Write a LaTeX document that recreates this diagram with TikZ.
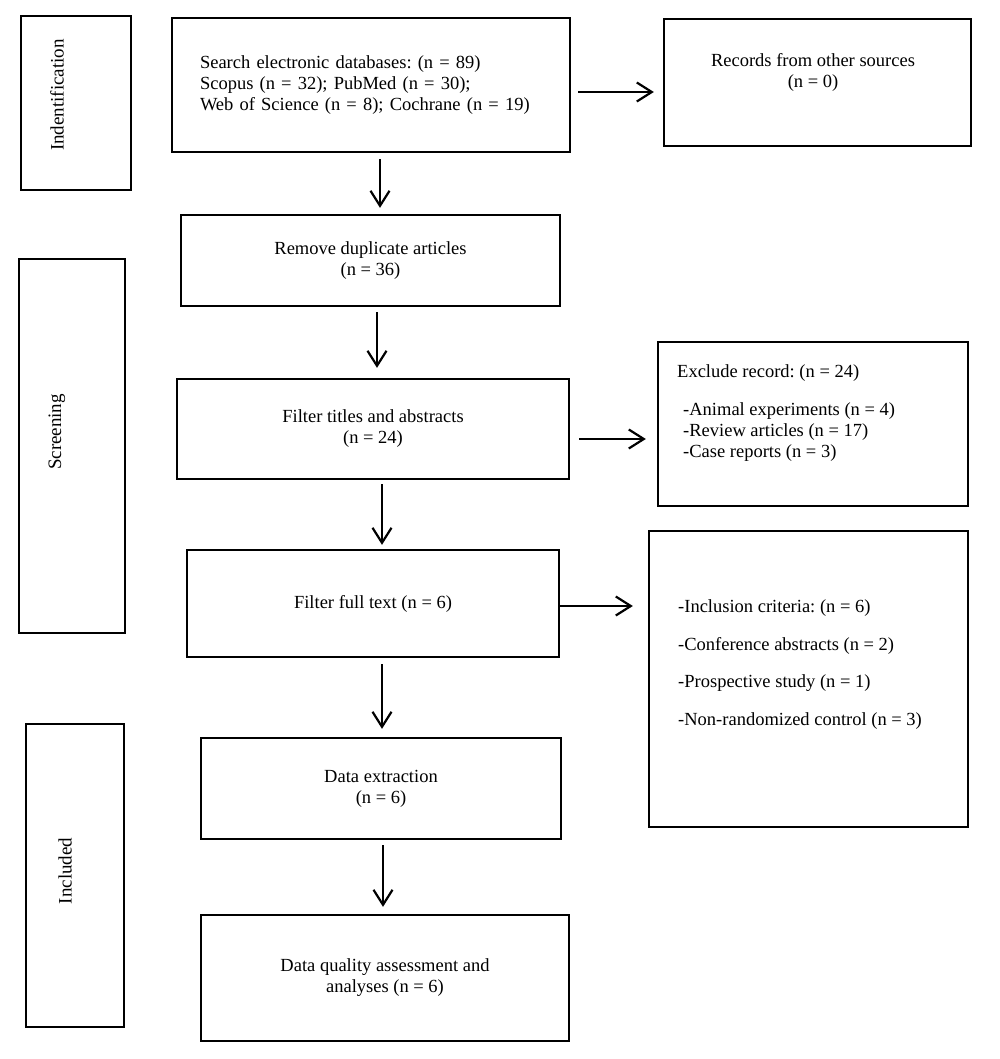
\documentclass[tikz,border=0pt]{standalone}
\usepackage{fontspec}
\setmainfont{Liberation Serif}
\usetikzlibrary{arrows.meta,calc}
\frenchspacing
\begin{document}
\begin{tikzpicture}[x=1pt,y=-1pt,
  box/.style 2 args={draw=black,line width=2.3pt,inner sep=0pt,minimum width=#1,minimum height=#2,align=center,font=\fontsize{18.5}{21}\selectfont\frenchspacing},
  txt/.style={inner sep=0pt,align=left,font=\fontsize{18.5}{21}\selectfont\frenchspacing},
  side/.style={inner sep=0pt,rotate=90,font=\fontsize{19}{22}\selectfont},
  arr/.style={line width=2.2pt,-{Straight Barb[length=15pt,width=19pt]}}]
\useasboundingbox (0,0) rectangle (1000,1059);
% side boxes
\node[box={110pt}{174pt}] (ident) at (76,103) {};
\node[side] (identt) at (57,95) {Indentification};
\node[box={106pt}{374pt}] (screen) at (72,446) {};
\node[side] (screent) at (57,432) {Screening};
\node[box={98pt}{303pt}] (incl) at (75,875.5) {};
\node[side] (inclt) at (65,871) {Included};
% main boxes
\node[box={398pt}{134pt},text width=342pt,inner xsep=28pt,align=left] (search) at (371,85)
  {Search electronic databases: (n = 89)\\Scopus (n = 32); PubMed (n = 30);\\Web of Science (n = 8); Cochrane (n = 19)};
\node[box={307pt}{127pt}] (records) at (817.5,82.5) {};
\node[txt,align=center] (recordst) at (813,72) {Records from other sources\\(n = 0)};
\node[box={379pt}{91pt}] (remove) at (370.5,260.5) {Remove duplicate articles\\(n = 36)};
\node[box={392pt}{100pt}] (titles) at (373,429) {Filter titles and abstracts\\(n = 24)};
\node[box={310pt}{164pt}] (exclude) at (813,424) {};
\node[txt,anchor=north west] (excludet) at (677,364.5)
  {Exclude record: (n = 24)\\[17pt]\hspace*{6pt}-Animal experiments (n = 4)\\\hspace*{6pt}-Review articles (n = 17)\\\hspace*{6pt}-Case reports (n = 3)};
\node[box={372pt}{107pt}] (full) at (373,603.5) {Filter full text (n = 6)};
\node[box={319pt}{296pt}] (inclusion) at (808.5,679) {};
\node[txt,anchor=north west] (inclusiont) at (678,599.5)
  {-Inclusion criteria: (n = 6)\\[16.5pt]-Conference abstracts (n = 2)\\[16.5pt]-Prospective study (n = 1)\\[16.5pt]-Non-randomized control (n = 3)};
\node[box={360pt}{101pt}] (extract) at (381,788.5) {Data extraction\\(n = 6)};
\node[box={368pt}{126pt}] (quality) at (385,978) {Data quality assessment and\\analyses (n = 6)};
% arrows
\draw[arr] ($(search.east)+(7,7)$) -- ($(records.west)+(-9,9.5)$);
\draw[arr] ($(search.south)+(9,6)$) -- ($(remove.north)+(9.5,-6)$);
\draw[arr] ($(remove.south)+(6.5,5)$) -- ($(titles.north)+(4,-10)$);
\draw[arr] ($(titles.south)+(9,4)$) -- ($(full.north)+(9,-4)$);
\draw[arr] ($(titles.east)+(9,10)$) -- ($(exclude.west)+(-11,15)$);
\draw[arr] ($(full.east)+(0,2.5)$) -- ($(inclusion.west)+(-15,-73)$);
\draw[arr] ($(full.south)+(9,6)$) -- ($(extract.north)+(1,-8)$);
\draw[arr] ($(extract.south)+(2,5)$) -- ($(quality.north)+(-2,-7)$);
\end{tikzpicture}
\end{document}
